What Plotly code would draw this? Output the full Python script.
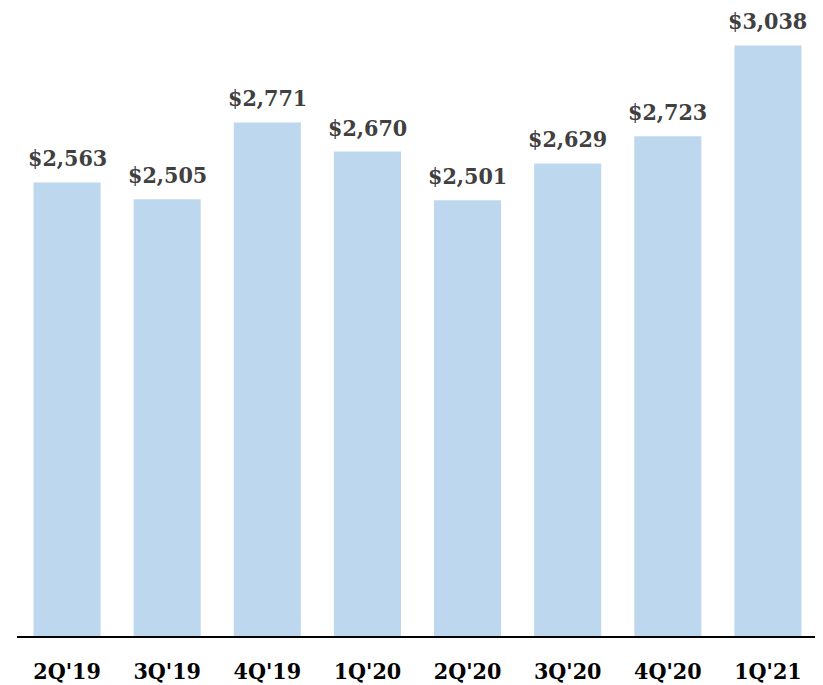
import plotly.graph_objects as go

quarters = ["2Q'19", "3Q'19", "4Q'19", "1Q'20", "2Q'20", "3Q'20", "4Q'20", "1Q'21"]
values = [2563, 2505, 2771, 2670, 2501, 2629, 2723, 3038]
labels = ["$2,563", "$2,505", "$2,771", "$2,670", "$2,501", "$2,629", "$2,723", "$3,038"]

FONT = "DejaVu Serif Condensed, DejaVu Serif, serif"

fig = go.Figure()
fig.add_trace(go.Bar(
    x=quarters, y=values,
    marker=dict(color="#BDD7EE", line=dict(width=0)),
    hoverinfo="skip",
))

for q, v, t in zip(quarters, values, labels):
    fig.add_annotation(
        x=q, y=v, text=f"<b>{t}</b>", showarrow=False,
        yanchor="bottom", yshift=9,
        font=dict(family=FONT, size=23, color="#404040"),
    )

fig.update_layout(
    width=815, height=677,
    margin=dict(l=9, r=5, t=2, b=49, autoexpand=False),
    plot_bgcolor="white", paper_bgcolor="white",
    bargap=0.33,
    showlegend=False,
    xaxis=dict(
        showline=True, linecolor="black", linewidth=2,
        showgrid=False, ticks="", ticklabelstandoff=13, automargin=False,
        tickfont=dict(family=FONT, size=23, color="black"),
        tickprefix="<b>", ticksuffix="</b>",
    ),
    yaxis=dict(
        range=[990, 3161], visible=False, showgrid=False, zeroline=False,
        automargin=False,
    ),
)

fig.write_html("out.html")
